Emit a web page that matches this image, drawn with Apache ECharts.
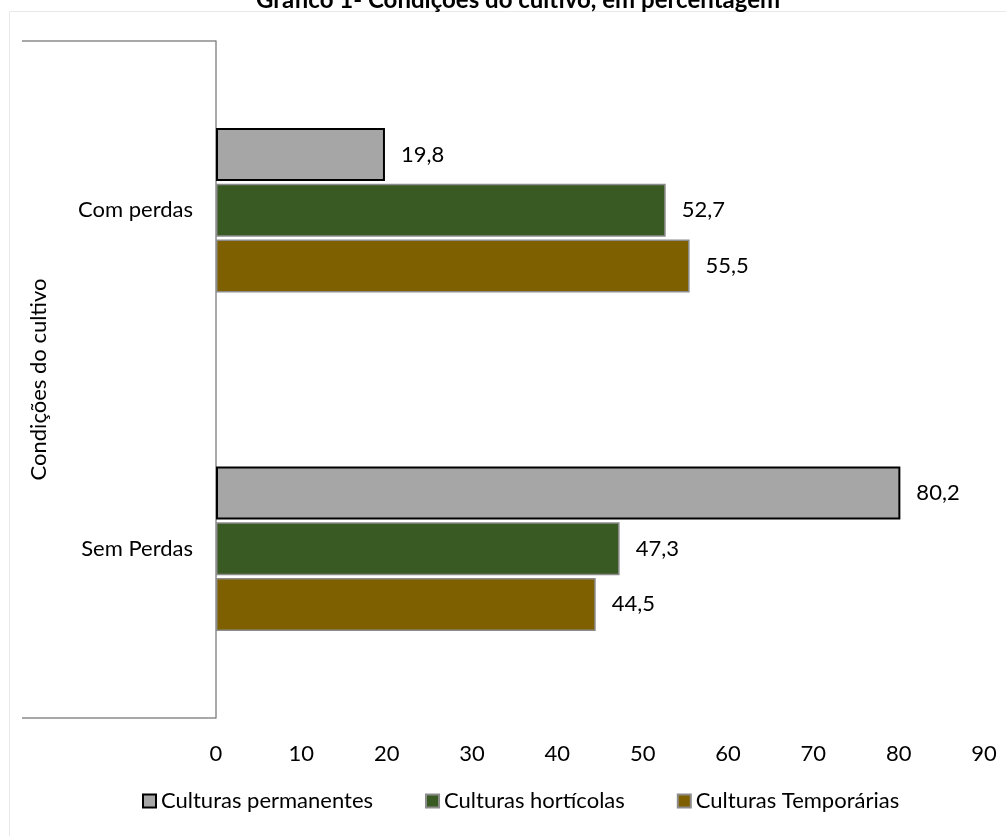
<!DOCTYPE html>
<html>
<head>
<meta charset="utf-8">
<script src="https://cdn.jsdelivr.net/npm/echarts@6/dist/echarts.min.js"></script>
<style>html,body{margin:0;padding:0;background:#fff}#c{width:1006px;height:836px}</style>
</head>
<body>
<div id="c"></div>
<script>
var categories = ['Com perdas', 'Sem Perdas'];
var seriesNames = ['Culturas permanentes', 'Culturas hortícolas', 'Culturas Temporárias'];
var permanentes = [19.8, 80.2];
var horticolas = [52.7, 47.3];
var temporarias = [55.5, 44.5];
var xTicks = [0, 10, 20, 30, 40, 50, 60, 70, 80, 90];
var titleText = 'Gráfico 1- Condições do cultivo, em percentagem';
var axisTitle = 'Condições do cultivo';

var FONT = 'Lato, "Open Sans", sans-serif';
var FS = 22;
function fmt(p) { return String(p.value).replace('.', ','); }
function mk(name, data, color, border, bw) {
  return {
    name: name, type: 'bar', data: data, barWidth: 53, barGap: '5%',
    itemStyle: { color: color, borderColor: border, borderWidth: bw },
    label: { show: true, position: 'right', distance: 16, formatter: fmt,
      color: '#000', fontSize: FS, fontFamily: FONT }
  };
}
var chart = echarts.init(document.getElementById('c'));
chart.setOption({
  animation: false,
  backgroundColor: '#fff',
  graphic: [{ type: 'rect', shape: { x: 9.5, y: 11.5, width: 1100, height: 900 },
    style: { fill: 'none', stroke: '#e8e8e8', lineWidth: 1 }, silent: true, z: -10 }],
  title: { text: titleText, left: 513, textAlign: 'center', top: -17,
    textStyle: { fontSize: 24, fontWeight: 'bold', fontFamily: FONT, color: '#000' } },
  legend: { bottom: 19, left: 137, itemWidth: 13, itemHeight: 13, itemGap: 52,
    icon: 'rect', textStyle: { fontSize: FS, fontFamily: FONT, color: '#000' },
    data: seriesNames },
  grid: { left: 216, right: 22, top: 41, bottom: 118, containLabel: false },
  xAxis: { type: 'value', min: 0, max: 90, interval: 10,
    axisLine: { show: false }, axisTick: { show: false }, splitLine: { show: false },
    axisLabel: { margin: 25, fontSize: FS, fontFamily: FONT, color: '#000',
      formatter: function (v) { return xTicks.indexOf(v) >= 0 ? String(v) : ''; } } },
  yAxis: [
    { type: 'category', data: categories, inverse: true,
      axisLine: { show: true, lineStyle: { color: '#8c8c8c', width: 1.5 } },
      axisTick: { show: false },
      axisLabel: { margin: 23, fontSize: FS, fontFamily: FONT, color: '#000' } },
    { type: 'category', data: [''], position: 'left',
      axisLine: { show: false },
      axisTick: { show: true, length: 194, lineStyle: { color: '#8c8c8c', width: 1.5 } },
      axisLabel: { show: false },
      name: axisTitle, nameLocation: 'middle', nameRotate: 90, nameGap: 166,
      nameTextStyle: { fontSize: FS, fontFamily: FONT, color: '#000' } }
  ],
  series: [
    mk(seriesNames[0], permanentes, '#a6a6a6', '#000000', 2),
    mk(seriesNames[1], horticolas, '#3a5a24', '#8c8c8c', 1.5),
    mk(seriesNames[2], temporarias, '#7f6000', '#8c8c8c', 1.5)
  ]
});
</script>
</body>
</html>
